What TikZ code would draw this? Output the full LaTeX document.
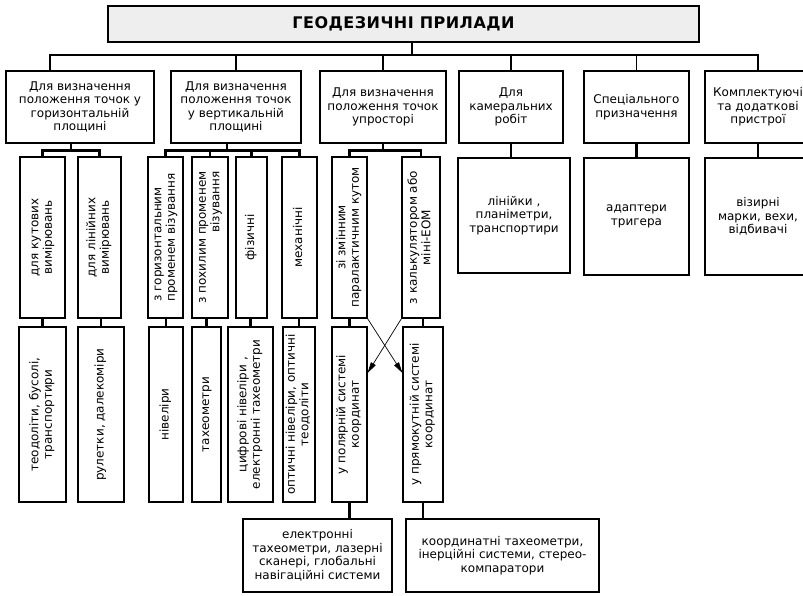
\documentclass[tikz,border=0pt]{standalone}
\usepackage{fontspec}
\setmainfont{DejaVu Sans}
\usepackage{graphicx}
\usetikzlibrary{arrows.meta}
\tikzstyle{every node}=[font=\fontsize{12}{13.5}\selectfont, inner sep=1pt]
\tikzstyle{box}=[draw, line width=1.1pt, align=center]
\tikzstyle{vbox}=[draw, line width=1.1pt]
\tikzstyle{link}=[line width=1.1pt]
\tikzstyle{sublink}=[line width=2.6pt]
\tikzstyle{cross}=[line width=0.7pt, -{Triangle[length=11pt,width=5.5pt]}]
\newcommand{\vt}[2][c]{\rotatebox{90}{\begin{tabular}{@{}#1@{}}#2\end{tabular}}}

\begin{document}
\begin{tikzpicture}[x=1pt, y=-1pt]
\useasboundingbox (0,0) rectangle (803,595);
\clip (0,0) rectangle (803,595);
% Title
    \node[box, fill=gray!13, minimum width=591, minimum height=36,
      font=\bfseries\fontsize{16}{18}\selectfont\addfontfeature{LetterSpace=3}]
      (title) at (403.5,24) {ГЕОДЕЗИЧНІ ПРИЛАДИ};
% Groups
    \node[box, minimum width=148, minimum height=72] (horiz) at (80,107)
      {Для визначення\\положення точок у\\горизонтальній\\площині};
    \node[box, minimum width=130, minimum height=72] (vert) at (236,107)
      {Для визначення\\положення точок\\у вертикальній\\площині};
    \node[box, minimum width=126, minimum height=72] (prost) at (383,107)
      {Для визначення\\положення точок\\упросторі};
    \node[box, minimum width=104, minimum height=72] (kamer) at (511,107)
      {Для\\камеральних\\робіт};
    \node[box, minimum width=105, minimum height=72] (spets) at (636.5,107)
      {Спеціального\\призначення};
    \node[box, minimum width=106, minimum height=72] (kompl) at (758,107)
      {Комплектуючі\\та додаткові\\пристрої};
% Kinds of measurement
    \node[vbox, minimum width=45, minimum height=161] (kut) at (42.5,237.5) {\vt{для кутових\\вимірювань}};
    \node[vbox, minimum width=43, minimum height=161] (linv) at (99.5,237.5) {\vt{для лінійних\\вимірювань}};
    \node[vbox, minimum width=35, minimum height=161] (hprom) at (165.5,237.5) {\vt[l]{з горизонтальним\\променем візування}};
    \node[vbox, minimum width=36, minimum height=161] (pprom) at (210,237.5) {\vt[r]{з похилим променем\\візування}};
    \node[vbox, minimum width=31, minimum height=161] (fiz) at (251.5,237.5) {\vt{фізичні}};
    \node[vbox, minimum width=35, minimum height=161] (mekh) at (299.5,237.5) {\vt{механічні}};
    \node[vbox, minimum width=35, minimum height=161] (zmin) at (349.5,237.5) {\vt{зі змінним\\паралактичним кутом}};
    \node[vbox, minimum width=38, minimum height=161] (kalk) at (421,237.5) {\vt{з калькулятором або\\міні-ЕОМ}};
    \node[box, minimum width=112, minimum height=115] (liniiky) at (514,215.5) {лінійки ,\\планіметри,\\транспортири};
    \node[box, minimum width=105, minimum height=117] (adapt) at (636.5,216.5) {адаптери\\тригера};
    \node[box, minimum width=106, minimum height=117] (vizir) at (758,216.5) {візирні\\марки, вехи,\\відбивачі};
% Instruments
    \node[vbox, minimum width=47, minimum height=175] (teod) at (42.5,414.5) {\vt{теодоліти, бусолі,\\транспортири}};
    \node[vbox, minimum width=46, minimum height=175] (rul) at (101,414.5) {\vt{рулетки, далекоміри}};
    \node[vbox, minimum width=34, minimum height=175] (niv) at (166,414.5) {\vt{нівеліри}};
    \node[vbox, minimum width=29, minimum height=175] (takh) at (206.5,414.5) {\vt{тахеометри}};
    \node[vbox, minimum width=45, minimum height=175] (tsyfr) at (250.5,414.5) {\vt{цифрові нівеліри ,\\електронні тахеометри}};
    \node[vbox, minimum width=32, minimum height=175] (opt) at (299,414.5) {\vt{оптичні нівеліри, оптичні\\теодоліти}};
    \node[vbox, minimum width=35, minimum height=175] (polar) at (349.5,414.5) {\vt{у полярній системі\\координат}};
    \node[vbox, minimum width=40, minimum height=175] (pryam) at (423,414.5) {\vt{у прямокутній системі\\координат}};
    \node[box, minimum width=149, minimum height=73] (elektr) at (317.5,555.5)
      {електронні\\тахеометри, лазерні\\сканері, глобальні\\навігаційні системи};
    \node[box, minimum width=193, minimum height=73] (koord) at (502.5,555.5)
      {координатні тахеометри,\\інерційні системи, стерео-\\компаратори};
% Upper links
    \coordinate (bus) at (412,55);
    \draw[link] (title.south -| bus) -- (bus);
    \draw[link] ([xshift=-30pt]horiz.north) |- (bus -| kompl.north) -- (kompl.north);
    \foreach \n in {vert,prost,kamer,spets}
      \draw[link] (\n.north) -- (\n.north |- bus);
% Lower links
    \draw[sublink] ([xshift=-9pt]horiz.south) -- +(0,8);
    \draw[sublink] (kut.north) -- +(0,-6) -| (linv.north);
    \draw[sublink] ([xshift=-9pt]vert.south) -- +(0,8);
    \draw[sublink] (hprom.north) -- +(0,-6) -| (mekh.north);
    \draw[sublink] (pprom.north) -- +(0,-6);
    \draw[sublink] (fiz.north) -- +(0,-6);
    \draw[sublink] (prost.south) -- +(0,8);
    \draw[sublink] (zmin.north) -- +(0,-6) -| (kalk.north);
    \foreach \a/\b in {kamer/liniiky, spets/adapt, kompl/vizir}
      \draw[sublink] (\a.south) -- (\a.south |- \b.north);
    \foreach \a/\b in {kut/teod, linv/rul, hprom/niv, pprom/takh, fiz/tsyfr, mekh/opt, zmin/polar, kalk/pryam}
      \draw[sublink] (\b.north) -- (\b.north |- \a.south);
    \draw[sublink] (polar.south) -- (polar.south |- elektr.north);
    \draw[sublink] (pryam.south) -- (pryam.south |- koord.north);
% Crossed arrows
    \draw[cross] (zmin.south east) -- ([yshift=41.5pt]pryam.west);
    \draw[cross] (kalk.south west) -- ([yshift=41.5pt]polar.east);
\end{tikzpicture}
\end{document}
